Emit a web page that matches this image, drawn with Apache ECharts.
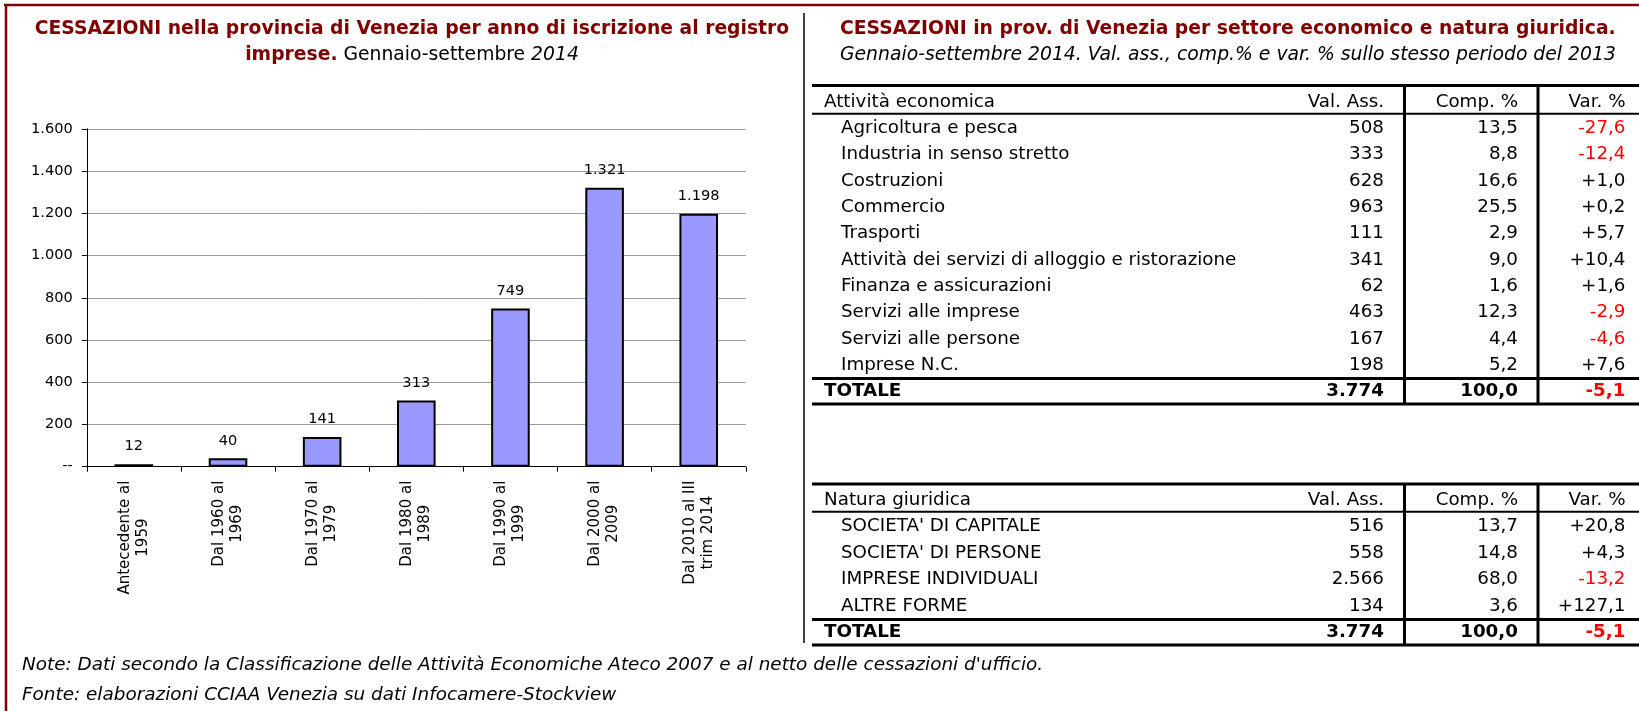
<!DOCTYPE html>
<html>
<head>
<meta charset="utf-8">
<script src="https://cdn.jsdelivr.net/npm/echarts@6/dist/echarts.min.js"></script>
<style>
  html, body { margin: 0; padding: 0; background: #fff; }
  #chart { width: 1639px; height: 711px; }
</style>
</head>
<body>
<div id="chart"></div>
<script>
// --- data ---
const periodi = ['Antecedente al\n1959', 'Dal 1960 al\n1969', 'Dal 1970 al\n1979', 'Dal 1980 al\n1989',
  'Dal 1990 al\n1999', 'Dal 2000 al\n2009', 'Dal 2010 al III\ntrim 2014'];
const cessazioni = [12, 40, 141, 313, 749, 1321, 1198];

const intestSettori = ['Attività economica', 'Val. Ass.', 'Comp. %', 'Var. %'];
const settori = ['Agricoltura e pesca', 'Industria in senso stretto', 'Costruzioni', 'Commercio', 'Trasporti',
  'Attività dei servizi di alloggio e ristorazione', 'Finanza e assicurazioni', 'Servizi alle imprese',
  'Servizi alle persone', 'Imprese N.C.'];
const settoriVal = [508, 333, 628, 963, 111, 341, 62, 463, 167, 198];
const settoriComp = [13.5, 8.8, 16.6, 25.5, 2.9, 9.0, 1.6, 12.3, 4.4, 5.2];
const settoriVar = [-27.6, -12.4, 1.0, 0.2, 5.7, 10.4, 1.6, -2.9, -4.6, 7.6];
const totaleSettori = [3774, 100.0, -5.1];

const intestNatura = ['Natura giuridica', 'Val. Ass.', 'Comp. %', 'Var. %'];
const nature = ["SOCIETA' DI CAPITALE", "SOCIETA' DI PERSONE", 'IMPRESE INDIVIDUALI', 'ALTRE FORME'];
const natureVal = [516, 558, 2566, 134];
const natureComp = [13.7, 14.8, 68.0, 3.6];
const natureVar = [20.8, 4.3, -13.2, 127.1];
const totaleNatura = [3774, 100.0, -5.1];

// --- layout / style ---
const FONT = '"DejaVu Sans", Verdana, sans-serif';
const DARKRED = '#800000';
const TFS = 18.3; // table font size
const COL = { head: 824, row: 841, val: 1384, comp: 1518, vari: 1625.5 };
const T1 = { top: 88.8, rowH: 26.34, lineTop: 85.6 };
const T2 = { top: 486.7, rowH: 26.54, lineTop: 484 };
const SEP = [1404.5, 1538];
const TABLE_LEFT = 812;

function fmtInt(n) { return String(n).replace(/\B(?=(\d{3})+(?!\d))/g, '.'); }
function fmtDec(n) { return n.toFixed(1).replace('.', ','); }
function fmtVar(n) { return (n > 0 ? '+' : '') + fmtDec(n); }

function tableSeries(gi, head, names, vals, comps, vars, tot) {
  const last = names.length + 1;
  const bold = { fontWeight: 'bold' };
  const red = v => (v < 0 ? { color: '#ff0000' } : {});
  const base = (pos) => ({
    type: 'scatter', xAxisIndex: gi, yAxisIndex: gi, symbolSize: 0, silent: true,
    itemStyle: { opacity: 1 },
    emphasis: { disabled: true },
    label: { show: true, position: pos, distance: 0, color: '#000', opacity: 1, fontFamily: FONT, fontSize: TFS,
      formatter: p => p.data.txt }
  });
  const colName = Object.assign(base('right'), {
    data: [{ value: [COL.head, 0], txt: head[0] }]
      .concat(names.map((s, i) => ({ value: [COL.row, i + 1], txt: s })))
      .concat([{ value: [COL.head, last], txt: 'TOTALE', label: bold }])
  });
  const colVal = Object.assign(base('left'), {
    data: [{ value: [COL.val, 0], txt: head[1] }]
      .concat(vals.map((v, i) => ({ value: [COL.val, i + 1], txt: fmtInt(v) })))
      .concat([{ value: [COL.val, last], txt: fmtInt(tot[0]), label: bold }])
  });
  const colComp = Object.assign(base('left'), {
    data: [{ value: [COL.comp, 0], txt: head[2] }]
      .concat(comps.map((v, i) => ({ value: [COL.comp, i + 1], txt: fmtDec(v) })))
      .concat([{ value: [COL.comp, last], txt: fmtDec(tot[1]), label: bold }])
  });
  const colVar = Object.assign(base('left'), {
    data: [{ value: [COL.vari, 0], txt: head[3] }]
      .concat(vars.map((v, i) => ({ value: [COL.vari, i + 1], txt: fmtVar(v), label: red(v) })))
      .concat([{ value: [COL.vari, last], txt: fmtVar(tot[2]), label: Object.assign({}, bold, red(tot[2])) }])
  });
  return [colName, colVal, colComp, colVar];
}

function tableRules(t, rows) {
  const yTop = t.lineTop;
  const yHead = t.top + t.rowH - 1.5;
  const yTot = t.top + t.rowH * (rows - 1);
  const yBot = t.top + t.rowH * rows - 1;
  const h = (y, w) => ({ type: 'line', silent: true,
    shape: { x1: TABLE_LEFT, y1: y, x2: 1639, y2: y }, style: { stroke: '#000', lineWidth: w } });
  const v = x => ({ type: 'line', silent: true,
    shape: { x1: x, y1: yTop, x2: x, y2: yBot }, style: { stroke: '#000', lineWidth: 3 } });
  return [h(yTop, 3), h(yHead, 2), h(yTot, 3), h(yBot, 3), v(SEP[0]), v(SEP[1])];
}

const rowsT1 = settori.length + 2;
const rowsT2 = nature.length + 2;

const chart = echarts.init(document.getElementById('chart'), null, { renderer: 'canvas' });

const titleRich = (extra) => Object.assign({ fontFamily: FONT, fontSize: 18.75, lineHeight: 26, color: '#000', fontWeight: 'normal' }, extra);

const option = {
  backgroundColor: '#fff',
  animation: false,
  textStyle: { fontFamily: FONT },
  title: [
    {
      left: 407, top: 11.5, textAlign: 'center',
      text: '{b|CESSAZIONI nella provincia di Venezia per anno di iscrizione al registro}\n' +
            '{b|imprese.}{n| Gennaio-settembre }{i|2014}',
      textStyle: {
        lineHeight: 26, fontWeight: 'normal',
        rich: {
          b: titleRich({ fontWeight: 'bold', color: DARKRED }),
          n: titleRich({}),
          i: titleRich({ fontStyle: 'italic' })
        }
      }
    },
    {
      left: 835, top: 11.5, itemGap: 0,
      text: 'CESSAZIONI in prov. di Venezia per settore economico e natura giuridica.',
      textStyle: { fontFamily: FONT, fontSize: 18.8, fontWeight: 'bold', color: DARKRED, lineHeight: 26 },
      subtext: 'Gennaio-settembre 2014. Val. ass., comp.% e var. % sullo stesso periodo del 2013',
      subtextStyle: { fontFamily: FONT, fontSize: 18.8, fontStyle: 'italic', color: '#000', lineHeight: 26 }
    },
    {
      left: 17, top: 646,
      text: "Note: Dati secondo la Classificazione delle Attività Economiche Ateco 2007 e al netto delle cessazioni d'ufficio.\n" +
            'Fonte: elaborazioni CCIAA Venezia su dati Infocamere-Stockview',
      textStyle: { fontFamily: FONT, fontSize: 18.4, fontStyle: 'italic', fontWeight: 'normal', color: '#000', lineHeight: 29.3 }
    }
  ],
  grid: [
    { left: 86.8, top: 128.8, width: 659, height: 337.9, outerBoundsMode: 'none' },
    { left: 0, top: T1.top, width: 1639, height: T1.rowH * rowsT1, outerBoundsMode: 'none' },
    { left: 0, top: T2.top, width: 1639, height: T2.rowH * rowsT2, outerBoundsMode: 'none' }
  ],
  xAxis: [
    {
      gridIndex: 0, type: 'category', data: periodi, boundaryGap: true,
      axisLine: { show: true, lineStyle: { color: '#000', width: 1 } },
      axisTick: { show: true, length: 5, interval: 0, alignWithLabel: false, lineStyle: { color: '#000' } },
      splitLine: { show: false },
      axisLabel: {
        show: true, interval: 0, rotate: 90, margin: 14, color: '#000',
        formatter: v => v.split('\n').map(s => '{c|' + s + '}').join('\n'),
        rich: { c: { align: 'center', fontFamily: FONT, fontSize: 15, lineHeight: 18, color: '#000' } }
      }
    },
    { gridIndex: 1, type: 'value', min: 0, max: 1639, show: false },
    { gridIndex: 2, type: 'value', min: 0, max: 1639, show: false }
  ],
  yAxis: [
    {
      gridIndex: 0, type: 'value', min: 0, max: 1600, interval: 200,
      axisLine: { show: true, lineStyle: { color: '#000', width: 1 } },
      axisTick: { show: true, length: 5, lineStyle: { color: '#000' } },
      splitLine: { show: true, lineStyle: { color: '#9a9a9a', width: 1 } },
      axisLabel: { margin: 14, color: '#000', fontFamily: FONT, fontSize: 14.6,
        formatter: v => (v === 0 ? '--' : fmtInt(v)) }
    },
    { gridIndex: 1, type: 'category', inverse: true, show: false, boundaryGap: true,
      data: ['h'].concat(settori, ['TOTALE']) },
    { gridIndex: 2, type: 'category', inverse: true, show: false, boundaryGap: true,
      data: ['h'].concat(nature, ['TOTALE']) }
  ],
  series: [
    {
      type: 'bar', xAxisIndex: 0, yAxisIndex: 0, data: cessazioni, barWidth: '41%', silent: true,
      itemStyle: { color: '#9999ff', borderColor: '#000', borderWidth: 2 },
      label: { show: true, position: 'top', distance: 10, color: '#000', fontFamily: FONT, fontSize: 14.6,
        formatter: p => fmtInt(p.value) }
    }
  ].concat(
    tableSeries(1, intestSettori, settori, settoriVal, settoriComp, settoriVar, totaleSettori),
    tableSeries(2, intestNatura, nature, natureVal, natureComp, natureVar, totaleNatura)
  ),
  graphic: [
    { type: 'line', silent: true, shape: { x1: 4, y1: 5, x2: 1639, y2: 5 }, style: { stroke: DARKRED, lineWidth: 2.5 } },
    { type: 'line', silent: true, shape: { x1: 6, y1: 4, x2: 6, y2: 711 }, style: { stroke: DARKRED, lineWidth: 2.5 } },
    { type: 'line', silent: true, shape: { x1: 804, y1: 13, x2: 804, y2: 643 }, style: { stroke: '#000', lineWidth: 1.5 } }
  ].concat(tableRules(T1, rowsT1), tableRules(T2, rowsT2))
};

chart.setOption(option);
</script>
</body>
</html>
